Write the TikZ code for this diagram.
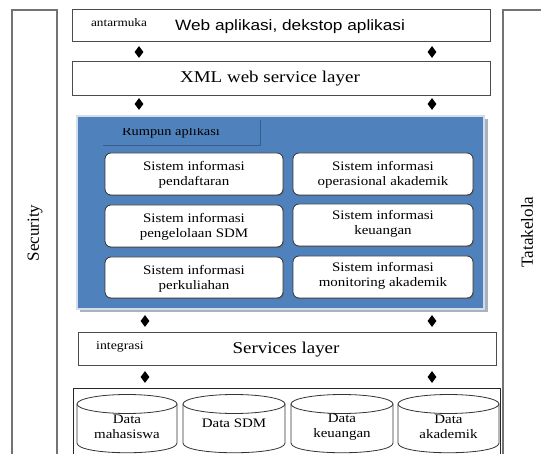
\documentclass[tikz,border=0pt]{standalone}
\usepackage{fontspec}
\setmainfont[FakeStretch=1.15]{Liberation Serif}
\newfontfamily\sansW[FakeStretch=1.15]{Liberation Sans}
\newfontfamily\serifN{Liberation Serif}
\usetikzlibrary{fit,shapes.geometric,shadows}
\definecolor{blu}{HTML}{4F81BD}
\definecolor{bluedge}{HTML}{385D8A}
\definecolor{frame}{HTML}{D3DCE8}
\definecolor{frameshadow}{HTML}{A9B3C0}
\begin{document}
\begin{tikzpicture}[x=1pt,y=-1pt,
  outer/.style={draw=black!55, line width=1.2pt},
  layer/.style={draw=black!70, line width=1pt, fill=white, inner sep=0pt},
  sibox/.style={draw=black!80, line width=0.8pt, fill=white, rounded corners=6pt, inner sep=0pt,
     drop shadow={shadow xshift=1.2pt, shadow yshift=-1.2pt, fill=black!60, opacity=0.6}},
  dia/.style={shape=diamond, fill=black, inner sep=0pt, minimum width=9pt, minimum height=12pt},
  lbl/.style={inner sep=0pt, align=center},
  sitext/.style={inner sep=0pt, align=center, font=\fontsize{13}{15}\selectfont},
  cyl/.style={draw=black!80, line width=0.8pt, fill=white},
  datatext/.style={inner sep=0pt, align=center, font=\fontsize{13}{15}\selectfont},
]
\useasboundingbox (0,0) rectangle (541,454);
\fill[white] (0,0) rectangle (541,454);

% side boxes
\node[outer, fit={(12,10) (57,470)}, inner sep=0pt] (sec) {};
\node[outer, fit={(503,10) (560,470)}, inner sep=0pt] (tata) {};
\node[lbl, rotate=90, font=\serifN\fontsize{17}{17}\selectfont] (sect) at (35,233) {Security};
\node[lbl, rotate=90, font=\serifN\fontsize{17}{17}\selectfont] (tatat) at (527,232) {Tatakelola};

% top layer
\node[layer, fit={(72,10) (490,42)}] (top) {};
\node[lbl, anchor=base, font=\fontsize{11.5}{12}\selectfont] (antar) at (119,27) {antarmuka};
\node[lbl, anchor=base, font=\sansW\fontsize{15}{16}\selectfont] (web) at (290,30.5) {Web aplikasi, dekstop aplikasi};

% XML layer
\node[layer, fit={(72,62) (490,96)}] (xml) {};
\node[lbl, anchor=base, font=\fontsize{16.5}{17}\selectfont] (xmlt) at (270,83) {XML web service layer};

% diamonds between top and xml
\node[dia] (d1) at (139,52) {};
\node[dia] (d2) at (432,52) {};
\node[dia] (d3) at (139,104) {};
\node[dia] (d4) at (432,104) {};

% blue application group
\fill[frameshadow] (80,119) rectangle (488,312);
\node[fit={(77,116) (484,309)}, inner sep=0pt, fill=blu, draw=frame, line width=2.5pt] (rumpun) {};
\node[fit={(103,120) (260,145)}, inner sep=0pt, fill=blu] (tab) {};
\draw[bluedge, line width=1.2pt] (tab.north east) -- (tab.south east) -- (tab.south west);
\begin{scope}
\clip (103,128.5) rectangle (260,145);
\node[lbl, anchor=base, font=\fontsize{12.5}{13}\selectfont] (tabt) at (171,136) {Rumpun aplikasi};
\end{scope}

% inner boxes
\node[sibox, fit={(105,153) (283,195)}] (s1) {};
\node[sibox, fit={(293,153) (473,195)}] (s2) {};
\node[sibox, fit={(105,205) (283,247)}] (s3) {};
\node[sibox, fit={(293,204) (473,246)}] (s4) {};
\node[sibox, fit={(105,257) (283,298)}] (s5) {};
\node[sibox, fit={(293,256) (473,298)}] (s6) {};
\node[sitext] at ([yshift=-1pt]s1.center) {Sistem informasi\\pendaftaran};
\node[sitext] at ([yshift=-1pt]s2.center) {Sistem informasi\\operasional akademik};
\node[sitext] at ([yshift=-1pt]s3.center) {Sistem informasi\\pengelolaan SDM};
\node[sitext] at ([yshift=1pt]s4.center) {Sistem informasi\\keuangan};
\node[sitext] at ([yshift=-1pt]s5.center) {Sistem informasi\\perkuliahan};
\node[sitext] at ([yshift=1pt]s6.center) {Sistem informasi\\monitoring akademik};

% diamonds around services layer
\node[dia] (d5) at (145,321) {};
\node[dia] (d6) at (432,321) {};
\node[dia] (d7) at (145,377) {};
\node[dia] (d8) at (432,377) {};

% services layer
\node[layer, fit={(78,333) (496,366)}] (serv) {};
\node[lbl, anchor=base, font=\fontsize{12}{13}\selectfont] (integ) at (120,350) {integrasi};
\node[lbl, anchor=base, font=\fontsize{16.5}{17}\selectfont] (servt) at (286,353) {Services layer};

% data area
\node[fit={(73,388) (500,470)}, inner sep=0pt, draw=black!85, line width=1pt] (data) {};

% cylinders
\foreach \xa/\xb/\nm in {77/177/c1, 183/285/c2, 291/393/c3, 398/499/c4}{
  \pgfmathsetmacro{\cx}{(\xa+\xb)/2}
  \pgfmathsetmacro{\rx}{(\xb-\xa)/2}
  \draw[cyl] (\xa,404) -- (\xa,443) .. controls (\xa,456) and (\xb,456) .. (\xb,443) -- (\xb,404);
  \draw[cyl] (\cx,404) ellipse [x radius=\rx, y radius=9.5];
  \coordinate (\nm) at (\cx,428);
}
\node[datatext] at ([yshift=1pt]c1) {Data\\mahasiswa};
\node[datatext, anchor=base] at (234,427) {Data SDM};
\node[datatext] at ([yshift=1pt]c3) {Data\\keuangan};
\node[datatext] at ([yshift=1pt]c4) {Data\\akademik};
\end{tikzpicture}
\end{document}
